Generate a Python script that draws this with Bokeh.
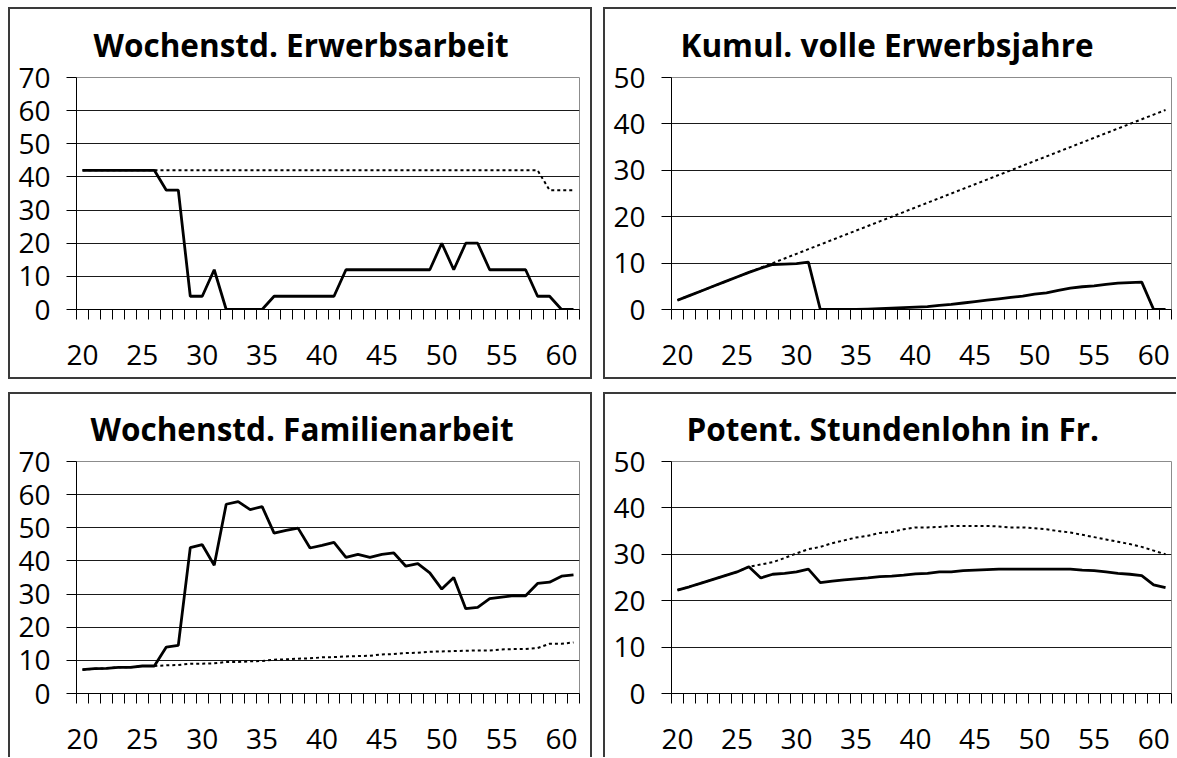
from bokeh.plotting import figure
from bokeh.models import Range1d, FixedTicker, LinearAxis, Grid
from bokeh.layouts import row, column
from bokeh.embed import file_html
from bokeh.resources import INLINE

FONT = "Open Sans"

# categories (age in years)
ages = list(range(20, 62))
x_tick_labels = [20, 25, 30, 35, 40, 45, 50, 55, 60]
y_ticks_70 = [0, 10, 20, 30, 40, 50, 60, 70]
y_ticks_50 = [0, 10, 20, 30, 40, 50]

# Wochenstd. Erwerbsarbeit
erwerb_ist = [42, 42, 42, 42, 42, 42, 42, 36, 36, 4, 4, 12, 0, 0, 0, 0,
              4, 4, 4, 4, 4, 4, 12, 12, 12, 12, 12, 12, 12, 12, 20, 12,
              20, 20, 12, 12, 12, 12, 4, 4, 0, 0]
erwerb_voll = [42, 42, 42, 42, 42, 42, 42, 42, 42, 42, 42, 42, 42, 42, 42, 42,
               42, 42, 42, 42, 42, 42, 42, 42, 42, 42, 42, 42, 42, 42, 42, 42,
               42, 42, 42, 42, 42, 42, 42, 36, 36, 36]

# Kumul. volle Erwerbsjahre
jahre_ist = [2, 3, 4, 5, 6, 7, 8, 8.9, 9.7, 9.8, 9.9, 10.2, 0, 0, 0, 0,
             0.1, 0.2, 0.3, 0.4, 0.5, 0.6, 0.9, 1.1, 1.4, 1.7, 2.0, 2.3, 2.6, 2.9,
             3.3, 3.6, 4.1, 4.6, 4.9, 5.1, 5.4, 5.7, 5.8, 5.9, 0, 0]
jahre_voll = [2, 3, 4, 5, 6, 7, 8, 9, 10, 11, 12, 13, 14, 15, 16, 17, 18, 19,
              20, 21, 22, 23, 24, 25, 26, 27, 28, 29, 30, 31, 32, 33, 34, 35,
              36, 37, 38, 39, 40, 41, 42, 43]

# Wochenstd. Familienarbeit
familie_ist = [7.2, 7.5, 7.6, 7.9, 7.9, 8.3, 8.3, 14.0, 14.5, 44.0, 44.9, 38.7,
               57.1, 57.9, 55.5, 56.4, 48.4, 49.2, 49.9, 43.9, 44.7, 45.6,
               41.1, 42.0, 41.1, 42.0, 42.4, 38.4, 39.2, 36.4, 31.5, 35.0,
               25.6, 26.0, 28.6, 29.1, 29.5, 29.5, 33.2, 33.6, 35.4, 35.8]
familie_voll = [7.2, 7.5, 7.6, 7.9, 7.9, 8.3, 8.3, 8.5, 8.6, 9.0, 9.0, 9.1,
                9.5, 9.5, 9.7, 9.8, 10.2, 10.3, 10.5, 10.6, 10.9, 11.0,
                11.2, 11.3, 11.4, 11.8, 11.9, 12.2, 12.3, 12.6, 12.7, 12.8,
                12.9, 13.0, 13.0, 13.3, 13.4, 13.4, 13.7, 15.0, 15.0, 15.4]

# Potent. Stundenlohn in Fr.
lohn_ist = [22.3, 23.0, 23.8, 24.6, 25.4, 26.2, 27.3, 24.9, 25.7, 25.9, 26.2, 26.8,
            23.9, 24.2, 24.5, 24.7, 24.9, 25.2, 25.3, 25.5, 25.8, 25.9, 26.2, 26.2,
            26.5, 26.6, 26.7, 26.8, 26.8, 26.8, 26.8, 26.8, 26.8, 26.8,
            26.6, 26.5, 26.2, 25.9, 25.7, 25.4, 23.4, 22.8]
lohn_voll = [22.3, 23.0, 23.8, 24.6, 25.4, 26.2, 27.3, 27.8, 28.3, 29.2, 30.2, 31.1,
             31.6, 32.4, 33.0, 33.6, 34.0, 34.6, 34.8, 35.4, 35.8, 35.8, 35.9, 36.1,
             36.1, 36.1, 36.1, 36.0, 35.8, 35.8, 35.6, 35.4, 35.0, 34.7, 34.2, 33.7,
             33.2, 32.7, 32.2, 31.6, 30.8, 30.0]

BORDER = "#3a3a3a"


def panel(title, ist, voll, yticks, width, height, right, top, bottom, shadow, title_offset):
    p = figure(width=width, height=height, output_backend="svg", toolbar_location=None,
               x_range=Range1d(ages[0] - 0.5, ages[-1] + 0.5),
               y_range=Range1d(yticks[0], yticks[-1]),
               x_axis_type=None, y_axis_type=None,
               min_border_left=68, min_border_right=right,
               min_border_top=top, min_border_bottom=bottom,
               border_fill_color=None, background_fill_color="white",
               outline_line_color="#8c8c8c", outline_line_width=1,
               styles={"box-shadow": shadow})
    p.title.text = title
    p.title.align = "left"
    p.title.offset = title_offset
    p.title.text_font = FONT
    p.title.text_font_size = "31.5px"
    p.title.text_font_style = "bold"
    p.title.text_color = "black"
    p.title.standoff = 23

    grid = Grid(dimension=1, ticker=FixedTicker(ticks=[t for t in yticks if 0 < t < yticks[-1]]),
                grid_line_color="#1a1a1a", grid_line_width=1)
    p.add_layout(grid)

    yaxis = LinearAxis(ticker=FixedTicker(ticks=yticks),
                       axis_line_color="black", axis_line_width=1,
                       major_tick_line_color="black", major_tick_out=10, major_tick_in=0,
                       minor_tick_line_color=None,
                       major_label_text_font=FONT, major_label_text_font_size="28px",
                       major_label_text_color="black", major_label_standoff=16)
    p.add_layout(yaxis, "left")

    bounds = [a - 0.5 for a in ages] + [ages[-1] + 0.5]
    xaxis = LinearAxis(ticker=FixedTicker(ticks=x_tick_labels, minor_ticks=bounds),
                       axis_line_color="black", axis_line_width=1,
                       major_tick_line_color=None, major_tick_out=10, major_tick_in=0,
                       minor_tick_line_color="black", minor_tick_out=10, minor_tick_in=0,
                       major_label_text_font=FONT, major_label_text_font_size="28px",
                       major_label_text_color="black", major_label_standoff=25)
    p.add_layout(xaxis, "below")

    p.line(ages, voll, line_color="black", line_width=2, line_dash="3 3")
    p.line(ages, ist, line_color="black", line_width=2.8)
    return p


p1 = panel("Wochenstd. Erwerbsarbeit", erwerb_ist, erwerb_voll, y_ticks_70,
           584, 372, 13, 70, 70, "inset 0 0 0 2px " + BORDER, 17)
p2 = panel("Kumul. volle Erwerbsjahre", jahre_ist, jahre_voll, y_ticks_50,
           573, 372, 5, 70, 70,
           "inset 2px 2px 0 0 " + BORDER + ", inset 0 -2px 0 0 " + BORDER, 9)
p3 = panel("Wochenstd. Familienarbeit", familie_ist, familie_voll, y_ticks_70,
           584, 365, 13, 69, 64,
           "inset 2px 2px 0 0 " + BORDER + ", inset -2px 0 0 0 " + BORDER, 14)
p4 = panel("Potent. Stundenlohn in Fr.", lohn_ist, lohn_voll, y_ticks_50,
           573, 365, 5, 69, 64, "inset 2px 2px 0 0 " + BORDER, 15)

layout = column(row(p1, p2, spacing=11), row(p3, p4, spacing=11), spacing=13,
                margin=(7, 0, 0, 8))

open("out.html", "w").write(file_html(layout, INLINE))
